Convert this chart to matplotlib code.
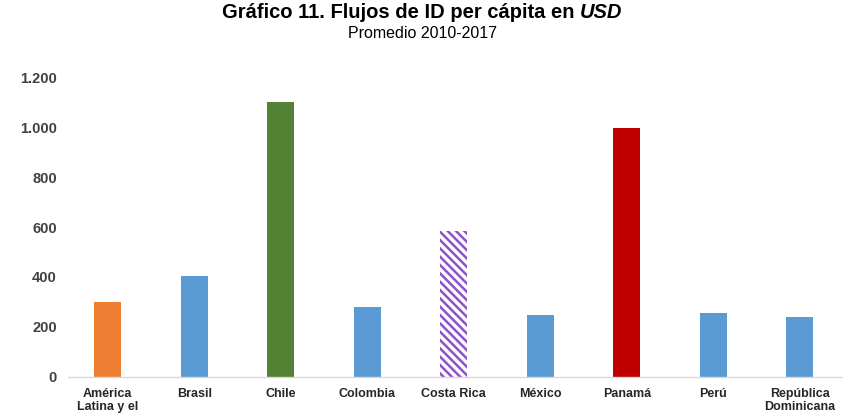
import matplotlib
matplotlib.use("Agg")
import matplotlib.pyplot as plt
import numpy as np

categories = ["América\nLatina y el", "Brasil", "Chile", "Colombia", "Costa Rica",
              "México", "Panamá", "Perú", "República\nDominicana"]
values = [300, 405, 1100, 282, 585, 248, 997, 258, 240]
colors = ["#ED7D31", "#5B9BD5", "#548235", "#5B9BD5", "white",
          "#5B9BD5", "#C00000", "#5B9BD5", "#5B9BD5"]
yticks = [0, 200, 400, 600, 800, 1000, 1200]
ytick_labels = ["0", "200", "400", "600", "800", "1.000", "1.200"]

plt.rcParams['font.family'] = ['Liberation Sans', 'DejaVu Sans']
plt.rcParams['hatch.linewidth'] = 1.8

fig = plt.figure(figsize=(8.43, 4.17), dpi=100)
ax = fig.add_axes([68/843, 1-377/417, 1-68/843, (377-77)/417])

x = np.arange(len(categories))
bars = ax.bar(x, values, width=0.31, color=colors, edgecolor='none', zorder=2)
bars[4].set_hatch('\\\\\\\\')
bars[4].set_edgecolor('#8E52C6')
bars[4].set_linewidth(0)

ax.set_xlim(-0.46, len(categories) - 0.5)
ax.set_ylim(0, 1200)
ax.set_yticks(yticks)
ax.set_yticklabels(ytick_labels, fontsize=10.5, fontweight='bold', color='#404040')
ax.set_xticks(x)
ax.set_xticklabels(categories, fontsize=9, fontweight='bold', color='#262626',
                   linespacing=1.1)
ax.tick_params(axis='both', length=0)
ax.tick_params(axis='y', pad=8)
ax.tick_params(axis='x', pad=8)
for s in ['top', 'right', 'left']:
    ax.spines[s].set_visible(False)
ax.spines['bottom'].set_color('#D9D9D9')
ax.spines['bottom'].set_linewidth(1.0)

# Title with bold + bold italic part
fig.canvas.draw()
r = fig.canvas.get_renderer()
t1 = fig.text(0, 1-13/417, "Gráfico 11. Flujos de ID per cápita en ", fontsize=14.5,
              fontweight='bold', va='center', ha='left')
t2 = fig.text(0, 1-13/417, "USD", fontsize=14.5, fontweight='bold', style='italic',
              va='center', ha='left')
w1 = t1.get_window_extent(r).width
w2 = t2.get_window_extent(r).width
cx = 422
start = cx - (w1 + w2) / 2
t1.set_x(start / 843)
t2.set_x((start + w1) / 843)
fig.text(cx/843, 1-33/417, "Promedio 2010-2017", fontsize=11.5, ha='center', va='center')

fig.savefig("out.png", dpi=100)
